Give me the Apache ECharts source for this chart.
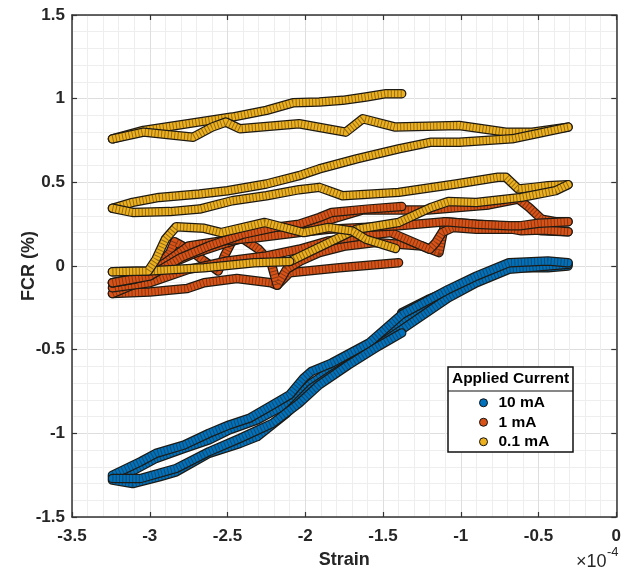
<!DOCTYPE html>
<html>
<head>
<meta charset="utf-8">
<script src="https://cdn.jsdelivr.net/npm/echarts@6/dist/echarts.min.js"></script>
<style>
html,body{margin:0;padding:0;background:#fff;}
#chart{width:624px;height:574px;}
</style>
</head>
<body>
<div id="chart"></div>
<script>
// Strain values in units of 1e-4, FCR in %
const seriesNames = ['10 mA', '1 mA', '0.1 mA'];
const xTicks = [-3.5, -3, -2.5, -2, -1.5, -1, -0.5, 0];
const yTicks = [-1.5, -1, -0.5, 0, 0.5, 1, 1.5];

// 10 mA sweeps
const blue1 = [[-1.38,-0.28],[-1.21,-0.20],[-1.08,-0.15],[-0.90,-0.07],[-0.69,0.00],[-0.50,0.025],[-0.31,0.015]];
const blue2 = [[-0.31,0.00],[-0.44,-0.01],[-0.69,-0.01],[-0.90,-0.09],[-1.08,-0.18],[-1.27,-0.26],[-1.38,-0.33],[-1.59,-0.48],[-1.83,-0.62],[-1.96,-0.70],[-2.10,-0.82],[-2.21,-0.87],[-2.31,-0.92],[-2.49,-0.98],[-2.62,-1.04],[-2.78,-1.09],[-2.96,-1.15],[-3.10,-1.22],[-3.24,-1.26]];
const blue3 = [[-3.24,-1.28],[-3.11,-1.30],[-2.94,-1.26],[-2.83,-1.23],[-2.62,-1.12],[-2.42,-1.06],[-2.31,-1.02],[-2.12,-0.88],[-1.96,-0.73],[-1.83,-0.65],[-1.59,-0.51],[-1.38,-0.38],[-1.08,-0.19],[-0.90,-0.10],[-0.69,-0.02],[-0.44,0.00],[-0.31,0.01]];
const blue4 = [[-0.31,0.02],[-0.44,0.03],[-0.69,0.02],[-0.90,-0.06],[-1.08,-0.14],[-1.38,-0.29],[-1.59,-0.46],[-1.83,-0.58],[-1.96,-0.63],[-2.01,-0.67],[-2.10,-0.77],[-2.21,-0.83],[-2.36,-0.91],[-2.49,-0.95],[-2.62,-1.00],[-2.78,-1.07],[-2.96,-1.12],[-3.06,-1.17],[-3.24,-1.25]];
const blue5 = [[-3.24,-1.27],[-3.06,-1.27],[-2.83,-1.21],[-2.62,-1.11],[-2.42,-1.03],[-2.21,-0.94],[-2.04,-0.82],[-1.91,-0.71],[-1.72,-0.59],[-1.53,-0.48],[-1.38,-0.40]];

// 1 mA sweeps
const red1 = [[-1.40,0.02],[-1.78,-0.01],[-2.10,-0.04],[-2.18,-0.115],[-2.22,-0.10],[-2.44,-0.075],[-2.65,-0.10],[-2.76,-0.135],[-3.00,-0.155],[-3.24,-0.165]];
const red2 = [[-3.24,-0.165],[-3.10,-0.11],[-2.96,-0.02],[-2.87,0.08],[-2.84,0.145],[-2.75,0.10],[-2.65,0.03],[-2.56,-0.03],[-2.52,0.06],[-2.47,0.15],[-2.42,0.175],[-2.30,0.10],[-2.22,0.02],[-2.18,-0.115],[-2.12,-0.02],[-2.03,0.03],[-1.91,0.08],[-1.74,0.12],[-1.55,0.14],[-1.40,0.13],[-1.25,0.12],[-1.14,0.08],[-1.10,0.265],[-0.90,0.25],[-0.65,0.235],[-0.48,0.21],[-0.31,0.205]];
const red3 = [[-0.31,0.205],[-0.48,0.215],[-0.61,0.21],[-0.67,0.22],[-0.90,0.22],[-1.05,0.23],[-1.12,0.20],[-1.16,0.14],[-1.20,0.10],[-1.30,0.14],[-1.45,0.20],[-1.63,0.18],[-1.85,0.15],[-2.04,0.10],[-2.25,0.06],[-2.50,0.03],[-2.75,-0.02],[-3.00,-0.10],[-3.24,-0.13]];
const red4 = [[-3.24,-0.10],[-3.06,-0.07],[-2.90,0.00],[-2.70,0.08],[-2.50,0.14],[-2.35,0.18],[-2.20,0.21],[-2.01,0.23],[-1.83,0.28],[-1.63,0.335],[-1.21,0.335],[-0.82,0.365],[-0.63,0.40],[-0.56,0.35],[-0.48,0.28],[-0.39,0.265],[-0.31,0.265]];
const red5 = [[-0.31,0.265],[-0.50,0.255],[-0.62,0.24],[-0.69,0.24],[-0.90,0.25],[-1.10,0.265],[-1.40,0.24],[-1.63,0.23],[-1.85,0.22],[-2.04,0.20],[-2.30,0.17],[-2.54,0.15],[-2.75,0.12],[-2.90,0.02],[-3.10,-0.08],[-3.24,-0.10]];
const red6 = [[-3.24,-0.10],[-3.00,-0.06],[-2.80,0.05],[-2.62,0.12],[-2.40,0.19],[-2.20,0.23],[-2.04,0.25],[-1.91,0.29],[-1.83,0.32],[-1.60,0.34],[-1.38,0.355]];

// 0.1 mA sweeps
const yel1 = [[-1.38,1.03],[-1.48,1.03],[-1.61,1.01],[-1.76,0.99],[-1.91,0.98],[-2.08,0.975],[-2.25,0.93],[-2.47,0.89],[-2.69,0.86],[-3.04,0.81],[-3.24,0.76]];
const yel2 = [[-3.24,0.76],[-3.04,0.80],[-2.72,0.77],[-2.60,0.83],[-2.51,0.86],[-2.42,0.82],[-2.04,0.85],[-1.74,0.80],[-1.63,0.88],[-1.42,0.83],[-1.01,0.84],[-0.71,0.80],[-0.54,0.80],[-0.31,0.83]];
const yel3 = [[-0.31,0.83],[-0.67,0.76],[-1.01,0.74],[-1.19,0.74],[-1.40,0.70],[-1.67,0.64],[-1.91,0.58],[-2.04,0.54],[-2.25,0.49],[-2.50,0.45],[-2.68,0.43],[-2.94,0.41],[-3.11,0.38],[-3.24,0.345]];
const yel4 = [[-3.24,0.345],[-3.11,0.32],[-2.87,0.325],[-2.68,0.34],[-2.47,0.39],[-2.25,0.42],[-2.04,0.456],[-1.91,0.47],[-1.76,0.42],[-1.40,0.44],[-1.03,0.49],[-0.76,0.53],[-0.71,0.53],[-0.63,0.46],[-0.53,0.47],[-0.44,0.48],[-0.31,0.486]];
const yel5 = [[-0.31,0.486],[-0.39,0.45],[-0.61,0.41],[-0.90,0.38],[-1.08,0.385],[-1.19,0.35],[-1.40,0.26],[-1.67,0.22],[-1.96,0.09],[-2.10,0.027]];
const yel6 = [[-2.10,0.027],[-2.33,0.02],[-2.65,-0.01],[-3.01,-0.03],[-3.24,-0.035]];
const yel7 = [[-3.24,-0.035],[-3.01,-0.03],[-2.96,0.04],[-2.90,0.16],[-2.83,0.235],[-2.65,0.225],[-2.54,0.20],[-2.26,0.26],[-2.01,0.20],[-1.85,0.23],[-1.70,0.21],[-1.61,0.16],[-1.42,0.105]];

const colors = ['#0072BD', '#D95319', '#EDB120'];
const groups = [
  [blue1, blue2, blue3, blue4, blue5],
  [red1, red2, red3, red4, red5, red6],
  [yel1, yel2, yel3, yel4, yel5, yel6, yel7]
];

const series = [];
groups.forEach((sweeps, gi) => {
  sweeps.forEach(d => {
    series.push({
      type: 'line', name: 'edge', data: d, showSymbol: false, silent: true,
      lineStyle: { color: '#1e1a14', width: 9.5, cap: 'round', join: 'round' }
    });
    series.push({
      type: 'line', name: seriesNames[gi], data: d, showSymbol: false,
      itemStyle: { color: colors[gi], borderColor: '#111', borderWidth: 1 },
      lineStyle: { color: colors[gi], width: 7, cap: 'round', join: 'round' }
    });
    series.push({
      type: 'line', name: 'bead', data: d, showSymbol: false, silent: true,
      lineStyle: { color: 'rgba(40,25,10,0.45)', width: 7, type: [1, 2.3], cap: 'butt', join: 'round' }
    });
  });
});

const axisCol = '#333';
const labelFont = { color: '#262626', fontFamily: 'Liberation Sans, Arial, sans-serif', fontWeight: 'bold', fontSize: 17 };

const chart = echarts.init(document.getElementById('chart'), null, { renderer: 'canvas' });
chart.setOption({
  animation: false,
  backgroundColor: '#fff',
  grid: { left: 72, right: 4, top: 15, bottom: 56 },
  legend: {
    data: seriesNames,
    orient: 'vertical',
    left: 479, top: 393,
    padding: 0,
    itemGap: 0,
    itemWidth: 8, itemHeight: 8,
    icon: 'circle',
    itemStyle: { borderColor: '#111', borderWidth: 1 },
    textStyle: { color: '#000', fontFamily: 'Liberation Sans, Arial, sans-serif', fontWeight: 'bold', fontSize: 15.5, lineHeight: 19.5, padding: [0, 0, 0, 6] },
    selectedMode: false
  },
  xAxis: [{
    type: 'value', min: xTicks[0], max: xTicks[xTicks.length - 1], interval: 0.5,
    name: 'Strain', nameLocation: 'middle', nameGap: 34, nameMoveOverlap: false,
    nameTextStyle: { color: '#262626', fontFamily: 'Liberation Sans, Arial, sans-serif', fontWeight: 'bold', fontSize: 18 },
    axisLine: { show: true, onZero: false, lineStyle: { color: axisCol, width: 1.5 } },
    axisTick: { show: true, inside: true, length: 5, lineStyle: { color: axisCol, width: 1.2 } },
    axisLabel: Object.assign({ margin: 11, formatter: v => String(v) }, labelFont),
    splitLine: { show: true, lineStyle: { color: '#dedede', width: 1 } },
    minorTick: { show: false, splitNumber: 5 },
    minorSplitLine: { show: true, lineStyle: { color: '#eeeeee', width: 1 } }
  }, {
    type: 'value', position: 'top', min: xTicks[0], max: xTicks[xTicks.length - 1], interval: 0.5,
    axisLine: { show: true, onZero: false, lineStyle: { color: axisCol, width: 1.5 } },
    axisTick: { show: true, inside: true, length: 5, lineStyle: { color: axisCol, width: 1.2 } },
    axisLabel: { show: false }, splitLine: { show: false }
  }],
  yAxis: [{
    type: 'value', min: yTicks[0], max: yTicks[yTicks.length - 1], interval: 0.5,
    name: 'FCR (%)', nameLocation: 'middle', nameGap: 34, nameRotate: 90, nameMoveOverlap: false,
    nameTextStyle: { color: '#262626', fontFamily: 'Liberation Sans, Arial, sans-serif', fontWeight: 'bold', fontSize: 18 },
    axisLine: { show: true, onZero: false, lineStyle: { color: axisCol, width: 1.5 } },
    axisTick: { show: true, inside: true, length: 5, lineStyle: { color: axisCol, width: 1.2 } },
    axisLabel: Object.assign({ margin: 7, formatter: v => String(v) }, labelFont),
    splitLine: { show: true, lineStyle: { color: '#dedede', width: 1 } },
    minorTick: { show: false, splitNumber: 5 },
    minorSplitLine: { show: true, lineStyle: { color: '#eeeeee', width: 1 } }
  }, {
    type: 'value', position: 'right', min: yTicks[0], max: yTicks[yTicks.length - 1], interval: 0.5,
    axisLine: { show: true, onZero: false, lineStyle: { color: axisCol, width: 1.5 } },
    axisTick: { show: true, inside: true, length: 5, lineStyle: { color: axisCol, width: 1.2 } },
    axisLabel: { show: false }, splitLine: { show: false }
  }],
  graphic: [
    { type: 'rect', z: 3, shape: { x: 448, y: 367, width: 125, height: 85 }, style: { fill: '#fff', stroke: '#111', lineWidth: 1.5 } },
    { type: 'line', z: 3, shape: { x1: 448, y1: 391, x2: 573, y2: 391 }, style: { stroke: '#111', lineWidth: 1.2 } },
    { type: 'text', z: 5, x: 510.5, y: 379, style: { text: 'Applied Current', fill: '#000', font: 'bold 15.5px Liberation Sans, Arial, sans-serif', textAlign: 'center', textVerticalAlign: 'middle' } },
    { type: 'text', z: 5, x: 576, y: 571, style: { text: '×10', fill: '#262626', font: '18px Liberation Sans, Arial, sans-serif', textAlign: 'left', textVerticalAlign: 'bottom' } },
    { type: 'text', z: 5, x: 607, y: 546, style: { text: '-4', fill: '#262626', font: '13px Liberation Sans, Arial, sans-serif', textAlign: 'left', textVerticalAlign: 'top' } }
  ],
  series: series
});
</script>
</body>
</html>
